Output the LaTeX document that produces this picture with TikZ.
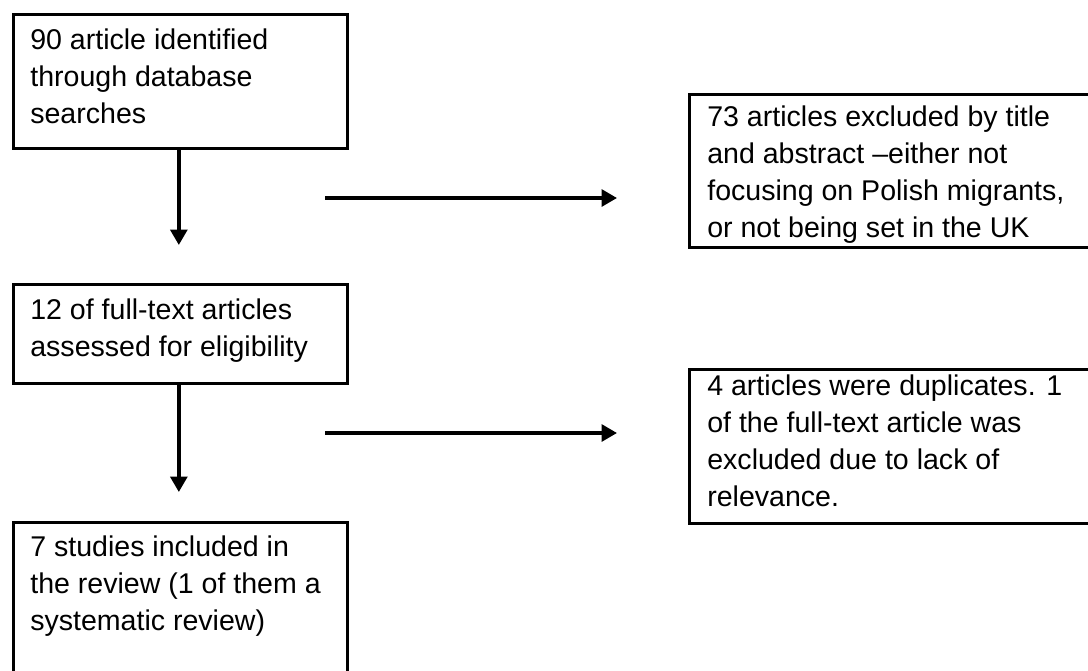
\documentclass[tikz,border=0pt]{standalone}
\usepackage{fontspec}
\setmainfont{Liberation Sans}
\usetikzlibrary{arrows.meta}

\newlength{\pxu}
\setlength{\pxu}{0.025cm}

\begin{document}
\begin{tikzpicture}[
x=0.025cm, y=-0.025cm,
box/.style={draw, line width=1.9pt, anchor=north west, inner xsep=17\pxu, inner ysep=0pt, align=left, font=\fontsize{20.3}{26.3}\selectfont},
>={Triangle[length=11pt,width=12pt]},
every path/.style={line width=2.5pt}
]

\useasboundingbox (0,0) rectangle (1088,671);

%-------------------------
% Nodos
%-------------------------

\node[box] (ident) at (12,13)
{\parbox[t][134\pxu][t]{300\pxu}{\rule{0pt}{35\pxu}90 article identified\\through database\\searches}};

\node[box] (fulltext) at (12,283)
{\parbox[t][99\pxu][t]{300\pxu}{\rule{0pt}{35\pxu}12 of full-text articles\\assessed for eligibility}};

\node[box] (included) at (12,521)
{\parbox[t][165\pxu][t]{300\pxu}{\rule{0pt}{34\pxu}7 studies included in\\the review (1 of them a\\systematic review)}};

\node[box, inner xsep=18\pxu] (excltitle) at (688,93)
{\parbox[t][153\pxu][t]{400\pxu}{\rule{0pt}{32\pxu}73 articles excluded by title\\and abstract –either not\\focusing on Polish migrants,\\or not being set in the UK}};

\node[box, inner xsep=18\pxu] (excldup) at (688,368)
{\parbox[t][154\pxu][t]{400\pxu}{\rule{0pt}{26\pxu}4 articles were duplicates. 1\\of the full-text article was\\excluded due to lack of\\relevance.}};

\coordinate (side1) at (325,198);
\coordinate (side2) at (325,433);

%-------------------------
% Flechas
%-------------------------

\draw[->, shorten >=38\pxu] ([xshift=-1.5\pxu]ident.south) -- ([xshift=-1.5\pxu]fulltext.north);
\draw[->, shorten >=29\pxu] ([xshift=-1.5\pxu]fulltext.south) -- ([xshift=-1.5\pxu]included.north);

\draw[->, shorten >=71\pxu] (side1) -- (excltitle.west |- side1);
\draw[->, shorten >=71\pxu] (side2) -- (excldup.west |- side2);

\end{tikzpicture}
\end{document}
